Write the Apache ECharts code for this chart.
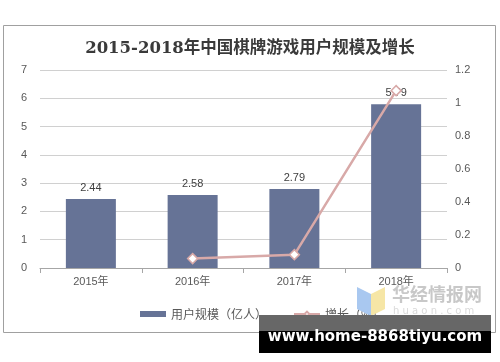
<!DOCTYPE html>
<html><head><meta charset="utf-8">
<script src="https://cdn.jsdelivr.net/npm/echarts@6/dist/echarts.min.js"></script>
<style>html,body{margin:0;padding:0;background:#fff}#c{width:500px;height:362px}</style>
</head><body><div id="c"></div>
<script>
const categories = ['2015年','2016年','2017年','2018年'];
const userScale = [2.44, 2.58, 2.79, 5.79];
const growth = [null, 0.057, 0.081, 1.075];
const leftTicks = {min:0, max:7, interval:1};
const rightTicks = {min:0, max:1.2, interval:0.2};

const chart = echarts.init(document.getElementById('c'), null, {renderer:'canvas'});
const axisFont = {color:'#595959', fontSize:11, fontFamily:'Liberation Sans, Arial, Noto Sans CJK SC, sans-serif'};
chart.setOption({
  animation:false,
  title:{text:'2015-2018年中国棋牌游戏用户规模及增长', left:'center', top:35,
    textStyle:{fontSize:16.5, fontWeight:'bold', color:'#3a3a3a', fontFamily:'DejaVu Serif, Noto Sans CJK SC, serif'}},
  grid:{left:40, right:53, top:70, bottom:94},
  legend:{bottom:37, left:135, itemGap:26, itemWidth:26, itemHeight:6,
    textStyle:{color:'#595959', fontSize:12, fontFamily:'Noto Sans CJK SC, sans-serif'},
    data:[{name:'用户规模（亿人）', icon:'rect'},{name:'增长（%）'}]},
  xAxis:{type:'category', data:categories,
    axisLine:{lineStyle:{color:'#a6a6a6'}},
    axisTick:{show:true, length:5, lineStyle:{color:'#a6a6a6'}},
    axisLabel:Object.assign({margin:8}, axisFont)},
  yAxis:[
    {type:'value', min:leftTicks.min, max:leftTicks.max, interval:leftTicks.interval,
     axisLine:{show:false}, axisTick:{show:false},
     axisLabel:Object.assign({margin:13}, axisFont),
     splitLine:{lineStyle:{color:'#d0d0d0'}}},
    {type:'value', min:rightTicks.min, max:rightTicks.max, interval:rightTicks.interval,
     axisLine:{show:false}, axisTick:{show:false}, splitLine:{show:false},
     axisLabel:Object.assign({margin:8}, axisFont)}
  ],
  series:[
    {name:'用户规模（亿人）', type:'bar', data:userScale, barWidth:50,
     itemStyle:{color:'#667396'},
     label:{show:true, position:'top', distance:6, color:'#404040', fontSize:11,
       fontFamily:'Liberation Sans, Arial, sans-serif'}},
    {name:'增长（%）', type:'line', yAxisIndex:1, data:growth, connectNulls:false,
     symbol:'diamond', symbolSize:10, showSymbol:true,
     lineStyle:{color:'#d8a9a8', width:2.5},
     itemStyle:{color:'#fff', borderColor:'#d8a9a8', borderWidth:1.5}}
  ],
  graphic:[
    {type:'rect', shape:{x:3.5, y:25.5, width:492, height:307}, style:{fill:null, stroke:'#a0a0a0', lineWidth:1}, z:-1},
    {type:'polygon', shape:{points:[[357,287],[371,294],[371,316],[357,309]]}, style:{fill:'#a9c8f0'}, z:10},
    {type:'polygon', shape:{points:[[371,294],[385,287],[385,309],[371,316]]}, style:{fill:'#f6e6a6'}, z:10},
    {type:'text', style:{text:'华经情报网', x:392, y:285, fill:'#c8c8c8', fontSize:18, fontWeight:'bold', fontFamily:'Noto Sans CJK SC, sans-serif'}, z:10},
    {type:'text', style:{text:'h u a o n . c o m', x:393, y:306, fill:'#dadada', fontSize:10, fontFamily:'DejaVu Sans, sans-serif'}, z:10},
    {type:'rect', shape:{x:259, y:315, width:232, height:16}, style:{fill:'#676767'}, z:20},
    {type:'rect', shape:{x:259, y:331, width:232, height:22}, style:{fill:'#000'}, z:20},
    {type:'text', style:{text:'www.home-8868tiyu.com', x:375, y:337, align:'center', verticalAlign:'middle', fill:'#fff', fontSize:15, fontWeight:'bold', fontFamily:'DejaVu Sans, sans-serif'}, z:21}
  ]
});
</script></body></html>
